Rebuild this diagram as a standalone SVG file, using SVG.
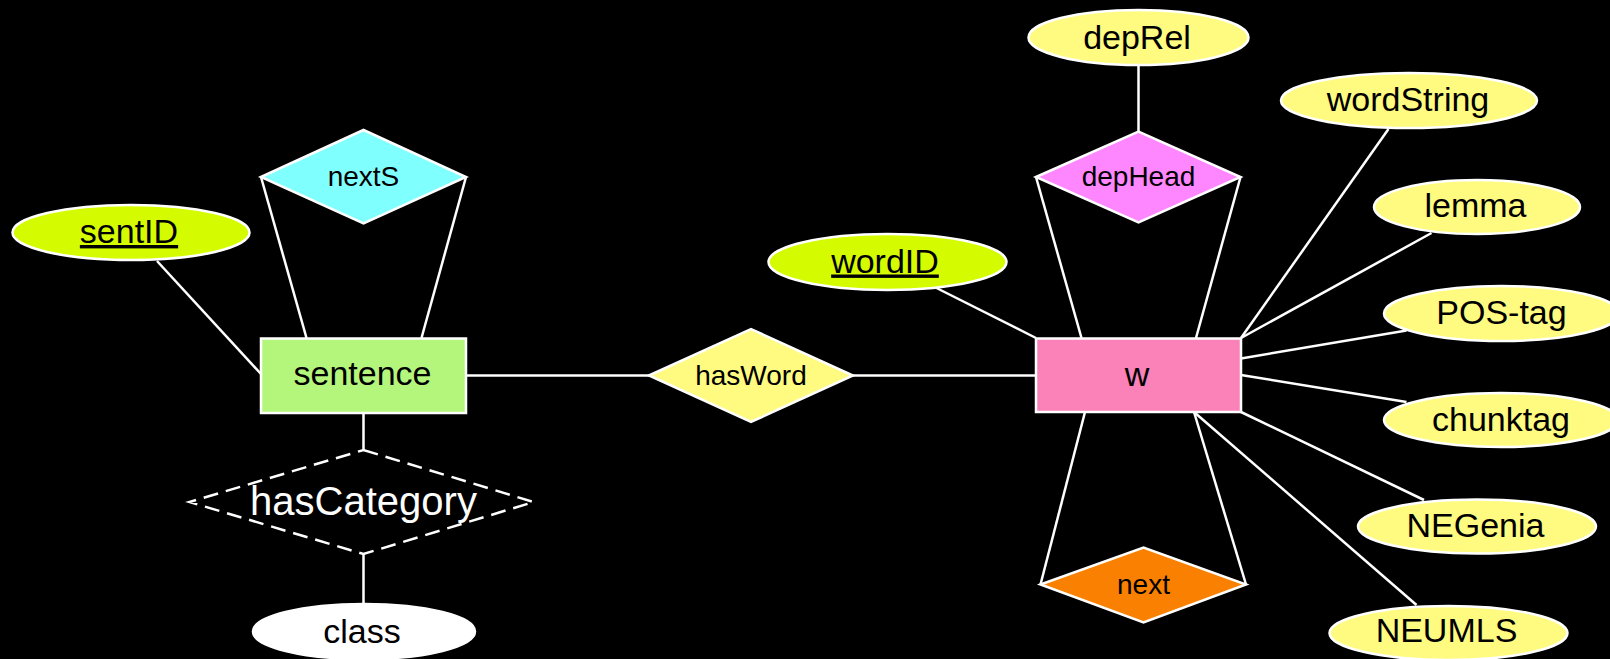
<svg xmlns="http://www.w3.org/2000/svg" width="1610" height="659" viewBox="0 0 1610 659">
  <style>
    text { font-family: "Liberation Sans", Arial, Helvetica, sans-serif; text-anchor: middle; fill: #000; }
    .big { font-size: 34px; }
    .rel { font-size: 28px; }
    .key { text-decoration: underline; }
    .shape { stroke: #fff; stroke-width: 2.5; }
    .entity { stroke: #fff; stroke-width: 2.5; }
    .attr { fill: #fffb80; }
    .keyattr { fill: #d5fb00; }
    #connectors line { stroke: #fff; stroke-width: 2.5; }
  </style>

  <rect x="0" y="0" width="1610" height="659" fill="#000"/>

  <!-- connectors -->
  <g id="connectors">
    <line x1="157" y1="261" x2="261" y2="374"/>
    <line x1="261" y1="177" x2="306.5" y2="338"/>
    <line x1="466" y1="177" x2="421.5" y2="338"/>
    <line x1="363.5" y1="413" x2="363.5" y2="450"/>
    <line x1="363.5" y1="554" x2="363.5" y2="604"/>
    <line x1="466" y1="375.5" x2="649" y2="375.5"/>
    <line x1="853" y1="375.5" x2="1036" y2="375.5"/>
    <line x1="936.5" y1="288" x2="1036" y2="338"/>
    <line x1="1138.5" y1="65" x2="1138.5" y2="131.5"/>
    <line x1="1036" y1="177" x2="1081.5" y2="338"/>
    <line x1="1240.5" y1="177" x2="1196" y2="338"/>
    <line x1="1388.5" y1="129" x2="1241" y2="338"/>
    <line x1="1431.5" y1="233" x2="1241" y2="338"/>
    <line x1="1406.5" y1="330.5" x2="1241" y2="358.5"/>
    <line x1="1241" y1="375" x2="1406.5" y2="402"/>
    <line x1="1241" y1="412" x2="1424" y2="500"/>
    <line x1="1194" y1="412" x2="1416.5" y2="605"/>
    <line x1="1085" y1="412" x2="1040.5" y2="584.5"/>
    <line x1="1194" y1="412" x2="1246" y2="584.5"/>
  </g>

  <!-- sentence side -->
  <g id="sentID">
    <ellipse class="shape keyattr" cx="131" cy="232.5" rx="118.5" ry="27.5"/>
    <text class="big key" x="129" y="243">sentID</text>
  </g>
  <g id="nextS">
    <polygon class="shape" fill="#80ffff" points="261,177 363.5,130 466,177 363.5,223.5"/>
    <text class="rel" x="363.5" y="186">nextS</text>
  </g>
  <g id="sentence">
    <rect class="entity" fill="#b4f67c" x="261" y="338.5" width="205" height="74.5"/>
    <text class="big" x="362.5" y="385">sentence</text>
  </g>
  <g id="hasCategory">
    <polygon fill="none" stroke="#fff" stroke-width="2.5" stroke-dasharray="15 8" points="363.5,450 533.5,502 363.5,554 189.5,502"/>
    <text x="363.5" y="515" style="font-size:40px; fill:#fff">hasCategory</text>
  </g>
  <g id="class">
    <ellipse class="shape" fill="#fff" cx="364" cy="631.5" rx="111" ry="27.5"/>
    <text class="big" x="362" y="642.5">class</text>
  </g>

  <!-- relationship between sentence and word -->
  <g id="hasWord">
    <polygon class="shape" fill="#fffb80" points="649,375.5 751,329 853,375.5 751,422"/>
    <text class="rel" x="751" y="385">hasWord</text>
  </g>

  <!-- word side -->
  <g id="wordID">
    <ellipse class="shape keyattr" cx="887.5" cy="262" rx="119" ry="28"/>
    <text class="big key" x="885" y="272.5">wordID</text>
  </g>
  <g id="w">
    <rect class="entity" fill="#fa82b8" x="1036" y="338.5" width="205" height="73.5"/>
    <text class="big" x="1137" y="386">w</text>
  </g>
  <g id="depRel">
    <ellipse class="shape attr" cx="1138.5" cy="37.5" rx="110" ry="27.5"/>
    <text class="big" x="1137" y="48.5">depRel</text>
  </g>
  <g id="depHead">
    <polygon class="shape" fill="#fe86fe" points="1036,177 1138.5,131.5 1240.5,177 1138.5,222.5"/>
    <text class="rel" x="1138.5" y="185.5">depHead</text>
  </g>
  <g id="next">
    <polygon class="shape" fill="#f98000" points="1040.5,584.5 1143.5,547.5 1246,584.5 1143.5,622.5"/>
    <text class="rel" x="1143.5" y="594">next</text>
  </g>
  <g id="wordString">
    <ellipse class="shape attr" cx="1409" cy="100.5" rx="128" ry="27.5"/>
    <text class="big" x="1408" y="110.5">wordString</text>
  </g>
  <g id="lemma">
    <ellipse class="shape attr" cx="1477" cy="207" rx="103" ry="27"/>
    <text class="big" x="1475.5" y="217">lemma</text>
  </g>
  <g id="POS-tag">
    <ellipse class="shape attr" cx="1501.5" cy="313.5" rx="117.5" ry="27.5"/>
    <text class="big" x="1501.5" y="323.5">POS-tag</text>
  </g>
  <g id="chunktag">
    <ellipse class="shape attr" cx="1501" cy="420" rx="117" ry="27"/>
    <text class="big" x="1501" y="431">chunktag</text>
  </g>
  <g id="NEGenia">
    <ellipse class="shape attr" cx="1477" cy="526.5" rx="119" ry="27"/>
    <text class="big" x="1475.5" y="536.5">NEGenia</text>
  </g>
  <g id="NEUMLS">
    <ellipse class="shape attr" cx="1448.5" cy="633" rx="119" ry="27"/>
    <text class="big" x="1446.5" y="642">NEUMLS</text>
  </g>
</svg>
